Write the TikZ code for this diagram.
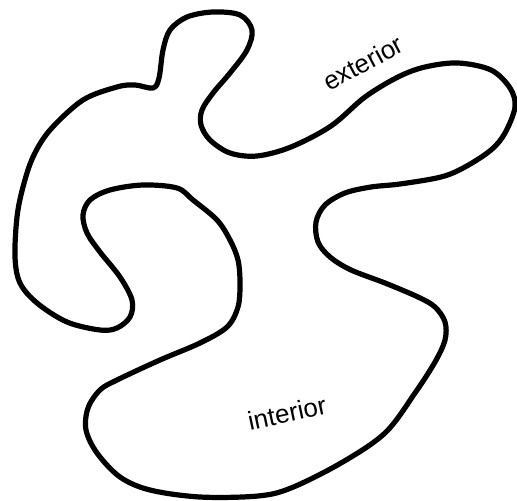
\documentclass[tikz,border=0pt]{standalone}
\usepackage{fontspec}
\setmainfont{Liberation Sans}
\begin{document}
\begin{tikzpicture}[x=0.5pt,y=-0.5pt,
  curve/.style={line width=2.6pt, line join=round},
  lbl/.style={font=\fontsize{13}{15}\selectfont, inner sep=0pt}]
\useasboundingbox (0,0) rectangle (517,501);
\draw[curve] plot[smooth cycle, tension=0.55] coordinates {
(213,12) (240,15) (252,30) (247,50) (230,73) (213,93) (202,110) (201,125)
(210,140) (230,153) (257,156) (291,147) (331,126) (365,97) (398,77) (425,67)
(458,63) (491,70) (510,88) (515,107) (505,133) (491,150) (465,167) (441,177)
(400,184) (371,187) (345,193) (325,205) (316,222) (318,242) (330,257) (351,270)
(385,283) (418,297) (435,307) (445,322) (445,340) (435,362) (415,393) (385,433)
(341,463) (291,488) (258,496) (200,497) (150,490) (120,477) (97,453) (86,430)
(88,408) (100,390) (117,380) (160,360) (200,343) (227,327) (238,307) (240,283)
(238,260) (230,240) (217,220) (193,200) (177,188) (143,185) (110,190) (90,200)
(83,215) (87,233) (100,252) (120,277) (132,300) (130,317) (117,328) (100,330)
(67,322) (37,303) (20,283) (15,257) (17,217) (23,187) (33,157) (50,130)
(83,100) (117,87) (135,85) (153,88) (159,78) (163,50) (170,30) (187,17)};
\node[lbl, rotate=28] (ext) at (363,63) {exterior};
\node[lbl, rotate=12] (int) at (287,413) {interior};
\end{tikzpicture}
\end{document}
